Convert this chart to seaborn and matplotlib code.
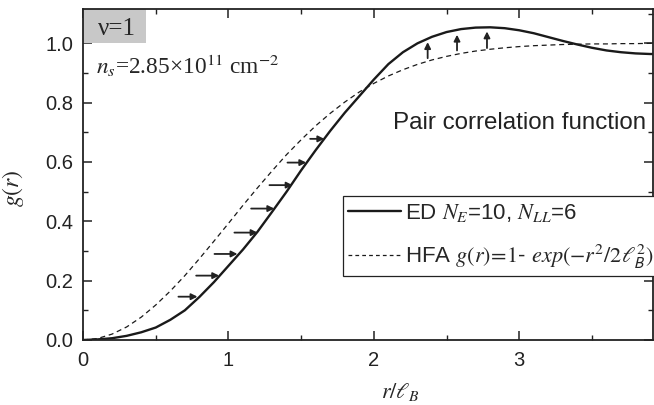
import numpy as np
import pandas as pd
import matplotlib
matplotlib.use("Agg")
import matplotlib.pyplot as plt
import seaborn as sns
from matplotlib.lines import Line2D
from matplotlib.patches import Rectangle

# === data ===
r_vals = [0.0, 0.1, 0.2, 0.3, 0.4, 0.5, 0.6, 0.7, 0.8, 0.9,
          1.0, 1.1, 1.2, 1.3, 1.4, 1.5, 1.6, 1.7, 1.8, 1.9,
          2.0, 2.1, 2.2, 2.3, 2.4, 2.5, 2.6, 2.7, 2.8, 2.9,
          3.0, 3.1, 3.2, 3.3, 3.4, 3.5, 3.6, 3.7, 3.8, 3.9, 3.92]
g_ed = [0.000, 0.002, 0.006, 0.014, 0.026, 0.042, 0.068, 0.100, 0.145, 0.195,
        0.250, 0.305, 0.365, 0.432, 0.500, 0.572, 0.640, 0.705, 0.766, 0.822,
        0.878, 0.930, 0.970, 1.000, 1.022, 1.038, 1.048, 1.053, 1.054, 1.051,
        1.044, 1.034, 1.021, 1.008, 0.996, 0.985, 0.976, 0.970, 0.966, 0.964, 0.964]
g_hfa = [0.000, 0.005, 0.020, 0.044, 0.077, 0.118, 0.165, 0.217, 0.274, 0.333,
         0.393, 0.454, 0.513, 0.570, 0.625, 0.675, 0.722, 0.764, 0.802, 0.836,
         0.865, 0.890, 0.911, 0.929, 0.944, 0.956, 0.966, 0.974, 0.980, 0.985,
         0.989, 0.992, 0.994, 0.996, 0.997, 0.998, 0.998, 0.999, 0.999, 1.000, 1.000]

# horizontal arrows (tail r, tip r, level g)
harrow_g = [0.146, 0.217, 0.290, 0.362, 0.443, 0.522, 0.598, 0.678]
harrow_r0 = [0.656, 0.778, 0.904, 1.041, 1.156, 1.282, 1.406, 1.562]
harrow_r1 = [0.787, 0.936, 1.062, 1.200, 1.315, 1.441, 1.535, 1.659]
# vertical arrows (position r, tail g, tip g)
varrow_r = [2.370, 2.572, 2.778]
varrow_g0 = [0.950, 0.976, 0.984]
varrow_g1 = [1.004, 1.029, 1.040]

df = pd.DataFrame({"r": r_vals * 2,
                   "g": g_ed + g_hfa,
                   "model": ["ED"] * len(r_vals) + ["HFA"] * len(r_vals)})

sns.set_style("ticks")
plt.rcParams["font.family"] = ["Liberation Sans", "DejaVu Sans"]
plt.rcParams["mathtext.fontset"] = "stix"
serif = ["Liberation Serif", "DejaVu Serif"]

fig = plt.figure(figsize=(6.54, 4.05), dpi=100)
ax = fig.add_axes([0.127, 0.1605, 0.8715, 0.8175])

sns.lineplot(data=df[df.model == "ED"], x="r", y="g", ax=ax,
             color="#1a1a1a", lw=1.7, sort=False)
sns.lineplot(data=df[df.model == "HFA"], x="r", y="g", ax=ax,
             color="#1a1a1a", lw=0.9, sort=False)
ax.lines[1].set_dashes((4, 3))

for g, a, b in zip(harrow_g, harrow_r0, harrow_r1):
    ax.annotate("", xy=(b, g), xytext=(a, g),
                arrowprops=dict(arrowstyle="-|>", color="#222222", lw=1.3,
                                mutation_scale=9, shrinkA=0, shrinkB=0))
for r, a, b in zip(varrow_r, varrow_g0, varrow_g1):
    ax.annotate("", xy=(r, b), xytext=(r, a),
                arrowprops=dict(arrowstyle="-|>", color="#222222", lw=1.3,
                                mutation_scale=9, shrinkA=0, shrinkB=0))

ax.set_xlim(0, 3.92)
ax.set_ylim(0, 1.116)
ax.set_xticks([0, 1, 2, 3])
ax.set_xticks([0.5, 1.5, 2.5, 3.5], minor=True)
ax.set_yticks([0.0, 0.2, 0.4, 0.6, 0.8, 1.0])
ax.set_yticks([0.1, 0.3, 0.5, 0.7, 0.9, 1.1], minor=True)
ax.set_yticklabels(["0.0", "0.2", "0.4", "0.6", "0.8", "1.0"])
ax.tick_params(which="both", direction="in", top=True, right=True,
               labelsize=14.5, colors="#222222")
ax.tick_params(which="major", length=6.5, width=1.1)
ax.tick_params(which="minor", length=3.5, width=1.0)
ax.tick_params(axis="x", pad=8)
ax.tick_params(axis="y", pad=7)
for s in ax.spines.values():
    s.set_linewidth(1.3)
    s.set_color("#222222")

ax.set_xlabel(r"$r/\ell_B$", fontsize=16)
ax.set_ylabel(r"$g(r)$", fontsize=17)
ax.xaxis.set_label_coords(0.556, -0.125)
ax.yaxis.set_label_coords(-0.1, 0.46)

ax.add_patch(Rectangle((0, 0.897), 0.1105, 0.103, transform=ax.transAxes,
                       facecolor="#c8c8c8", edgecolor="none", zorder=1))
ax.text(0.059, 0.94, "ν=1", transform=ax.transAxes, ha="center", va="center",
        fontsize=18, family=serif, zorder=2)
ax.text(0.0228, 0.804, r"$n_s$=2.85×10$^{11}$ cm$^{-2}$", transform=ax.transAxes,
        ha="left", va="baseline", fontsize=16.8, family=serif)
ax.text(0.544, 0.6366, "Pair correlation function", transform=ax.transAxes,
        ha="left", va="baseline", fontsize=17.4, color="#222222")

handles = [Line2D([], [], color="#1a1a1a", lw=1.7),
           Line2D([], [], color="#1a1a1a", lw=0.9, dashes=(3, 2.5))]
labels = [r"ED $N_E$=10, $N_{LL}$=6",
          r"HFA $g(r)\!=\!\mathit{1}$- $exp(-r^2/2\ell_\mathsf{B}^2)$"]
leg = ax.legend(handles, labels, loc="upper left", bbox_to_anchor=(0.4556, 0.435),
                borderaxespad=0, fontsize=16, frameon=True, fancybox=False,
                handlelength=2.35, handletextpad=0.2, borderpad=0.25,
                labelspacing=0.85, edgecolor="#222222", framealpha=1)
leg.get_frame().set_linewidth(0.9)

fig.savefig("out.png", dpi=100)
